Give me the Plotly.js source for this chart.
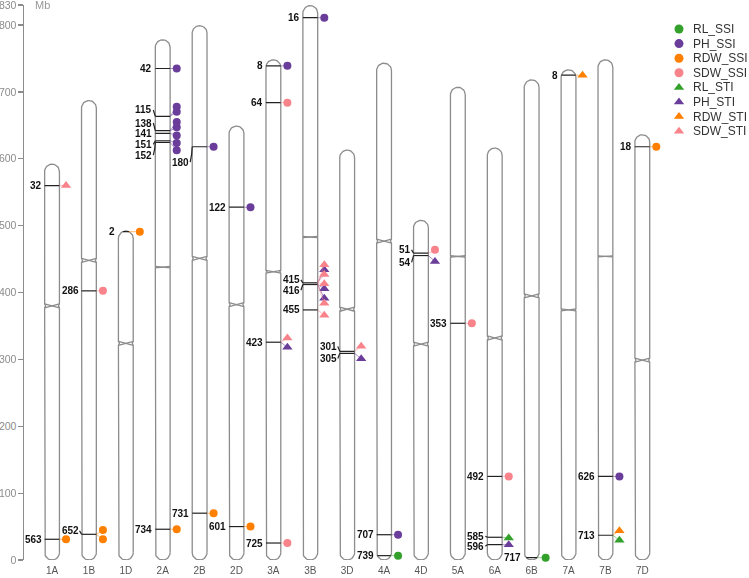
<!DOCTYPE html>
<html><head><meta charset="utf-8">
<script src="https://cdn.plot.ly/plotly-3.0.1.min.js"></script>
<style>html,body{margin:0;padding:0;background:#fff}#chart{width:749px;height:578px}</style>
</head><body><div id="chart"></div>
<script>
// ---------------- data ----------------
const chromosomes = ['1A','1B','1D','2A','2B','2D','3A','3B','3D','4A','4D','5A','6A','6B','7A','7B','7D'];
const chromLength = [592, 687, 492, 778, 799, 649, 748, 829, 613, 743, 508, 707, 616, 718, 733, 748, 636];
const centromere  = [380, 448, 324, 438, 451, 382, 431, 483, 375, 477, 323, 454, 332, 395, 374, 454, 299];

const traitNames = ['RL_SSI','PH_SSI','RDW_SSI','SDW_SSI','RL_STI','PH_STI','RDW_STI','SDW_STI'];

const markerChrom = ['1A','1A','1B','1B','1D','2A','2A','2A','2A','2A','2A','2A','2B','2B','2D','2D','3A','3A','3A','3A','3B','3B','3B','3B','3D','3D','4A','4A','4D','4D','5A','6A','6A','6A','6B','7A','7B','7B','7D'];
const markerId    = ['32','563','286','652','2','42','115','138','141','151','152','734','180','731','122','601','8','64','423','725','16','415','416','455','301','305','707','739','51','54','353','492','585','596','717','8','626','713','18'];
const markerPos   = [560,31,402.5,38.4,491,735,663.5,642,638,627,624.5,46,618,70,527.6,50,739,684,325.7,25.4,811,414.5,412,374,312,309,37.8,6.5,458.8,455.3,354,125,34,23,3.5,725,125,37,618];
const markerLabelPos = [560,31,402.5,43.8,491,735,673,653.5,637.5,621.6,605.6,46,595,70,527.6,50,739,684,325.7,25.4,811,419,403.5,374,319.5,301.3,37.8,6.5,463.8,445,354,125,35.5,20.5,3.5,725,125,37,618];

// associations: marker index, trait, drawn position of the symbol (Mb)
const hitMarker = [0,1,2,3,3,4,5,6,6,7,7,8,9,10,11,12,13,14,15,16,17,18,18,19,20,21,21,21,21,22,22,22,23,24,25,26,27,28,29,30,31,32,33,34,35,36,37,37,38];
const hitTrait  = ['SDW_STI','RDW_SSI','SDW_SSI','RDW_SSI','RDW_SSI','RDW_SSI','PH_SSI','PH_SSI','PH_SSI','PH_SSI','PH_SSI','PH_SSI','PH_SSI','PH_SSI','RDW_SSI','PH_SSI','RDW_SSI','PH_SSI','RDW_SSI','PH_SSI','SDW_SSI','SDW_STI','PH_STI','SDW_SSI','PH_SSI','SDW_STI','PH_STI','SDW_STI','SDW_STI','PH_STI','PH_STI','SDW_STI','SDW_STI','SDW_STI','PH_STI','PH_SSI','RL_SSI','SDW_SSI','PH_STI','SDW_SSI','SDW_SSI','RL_STI','PH_STI','RL_SSI','RDW_STI','PH_SSI','RDW_STI','RL_STI','RDW_SSI'];
const hitPos    = [560,31,402.5,44.8,31,491,735,678,670.5,655,647,634.7,623.5,612.6,46,618,70,527.6,50,739,684,332,318,25.4,811,441.4,434,427,413,405.6,391.5,384,366,319.7,301,37.8,6.5,463.8,446.4,354,125,33,22.8,3.5,725,125,43.8,29.4,618];

// ---------------- styles ----------------
const traitColor  = {RL_SSI:'#33a02c',PH_SSI:'#6a3d9a',RDW_SSI:'#ff7f00',SDW_SSI:'#f8838b',RL_STI:'#33a02c',PH_STI:'#6a3d9a',RDW_STI:'#ff7f00',SDW_STI:'#f8838b'};
const traitSymbol = {RL_SSI:'circle',PH_SSI:'circle',RDW_SSI:'circle',SDW_SSI:'circle',RL_STI:'triangle-up',PH_STI:'triangle-up',RDW_STI:'triangle-up',SDW_STI:'triangle-up'};
const pinchDepth = [3,3,3,1,3,3,2,0.8,3,3,3,1,3,3,1.5,0.8,3];

const ML=24, MR=0, MT=5, MB=18, WIDTH=749, HEIGHT=578;
const XDOM=[0,0.89], XR=[-0.76,16.73], YR=[0,830];
const pxPerUnit = (WIDTH-ML-MR)*(XDOM[1]-XDOM[0])/(XR[1]-XR[0]);
const pxPerMb = (HEIGHT-MT-MB)/(YR[1]-YR[0]);
const W = 7.4/pxPerUnit;      // half width of chromosome
const R = 7.4/pxPerMb;        // cap radius in Mb
const P = 1.0/pxPerUnit;      // pinch
const SYMX = 14/pxPerUnit;    // symbol offset
const LGAP = 2/pxPerUnit;

function halfWidthAt(i,y){
  const L=chromLength[i];
  let dy=0;
  if (y>L-R) dy=(y-(L-R))/R; else if (y<R) dy=(R-y)/R;
  return W*Math.sqrt(Math.max(0,1-dy*dy));
}

const traces=[];
// chromosome outlines
const ox=[], oy=[];
chromosomes.forEach((nm,i)=>{
  const L=chromLength[i], c=centromere[i], d=pinchDepth[i];
  const pts=[];
  pts.push([i+W,R],[i+W,c-d],[i+W-P,c],[i+W,c+d],[i+W,L-R]);
  for(let k=1;k<=24;k++){const t=Math.PI*k/24; pts.push([i+W*Math.cos(t), L-R+R*Math.sin(t)]);}
  pts.push([i-W,c+d],[i-W+P,c],[i-W,c-d],[i-W,R]);
  for(let k=1;k<=24;k++){const t=Math.PI+Math.PI*k/24; pts.push([i+W*Math.cos(t), R+R*Math.sin(t)]);}
  pts.forEach(p=>{ox.push(p[0]);oy.push(p[1]);});
  ox.push(null);oy.push(null);
  ox.push(i-W,i+W,null,i-W,i+W,null);
  oy.push(c-d,c+d,null,c+d,c-d,null);
});
traces.push({x:ox,y:oy,mode:'lines',line:{color:'#8c8c8c',width:1.3},hoverinfo:'skip',showlegend:false,cliponaxis:false});

// marker lines + label connectors
const mx=[], my=[];
markerChrom.forEach((ch,k)=>{
  const i=chromosomes.indexOf(ch), y=markerPos[k];
  const hw=halfWidthAt(i,y);
  mx.push(i-hw,i+hw,null); my.push(y,y,null);
  if (Math.abs(markerLabelPos[k]-y)>0.5){
    mx.push(i-W-LGAP,i-W-LGAP*0.3,i-hw,null); my.push(markerLabelPos[k],(markerLabelPos[k]+y)/2,y,null);
  }
});
traces.push({x:mx,y:my,mode:'lines',line:{color:'#222',width:1.2},hoverinfo:'skip',showlegend:false,cliponaxis:false});

// symbols per trait
traitNames.forEach(t=>{
  const cx=[],cy=[],sx=[],sy=[];
  hitTrait.forEach((tt,j)=>{
    if(tt!==t) return;
    const k=hitMarker[j], i=chromosomes.indexOf(markerChrom[k]);
    const hw=halfWidthAt(i,markerPos[k]);
    cx.push(i+hw,i+SYMX,null); cy.push(markerPos[k],hitPos[j],null);
    sx.push(i+SYMX); sy.push(hitPos[j]);
  });
  traces.push({x:cx,y:cy,mode:'lines',line:{color:traitColor[t],width:0.9},opacity:0.6,hoverinfo:'skip',showlegend:false,cliponaxis:false});
  traces.push({x:sx,y:sy,mode:'markers',name:t,marker:{color:traitColor[t],symbol:traitSymbol[t],size:traitSymbol[t]==='circle'?8:9,line:{width:0}},showlegend:false,cliponaxis:false});
});

// custom legend on a helper axis (pixel units)
const legX=[],legY=[],legC=[],legS=[];
traitNames.forEach((t,k)=>{legX.push(2.5);legY.push(24+k*14.6);legC.push(traitColor[t]);legS.push(traitSymbol[t]);});
traces.push({x:legX,y:legY,xaxis:'x2',yaxis:'y2',mode:'markers',marker:{color:legC,symbol:legS,size:9},hoverinfo:'skip',showlegend:false,cliponaxis:false});

const annotations=[];
markerId.forEach((id,k)=>{
  const i=chromosomes.indexOf(markerChrom[k]);
  annotations.push({x:i-W,y:markerLabelPos[k],xref:'x',yref:'y',text:'<b>'+id+'</b>',showarrow:false,xanchor:'right',yanchor:'middle',xshift:-1,
    font:{family:'Liberation Sans, Arial, sans-serif',size:10,color:'#111'}});
});
traitNames.forEach((t,k)=>{
  annotations.push({x:14,y:24+k*14.6,xref:'x2',yref:'y2',text:t,showarrow:false,xanchor:'left',yanchor:'middle',
    font:{family:'Liberation Sans, Arial, sans-serif',size:12,color:'#333'}});
});
annotations.push({x:XR[0]+9/pxPerUnit,y:830,xref:'x',yref:'y',text:'Mb',showarrow:false,xanchor:'left',yanchor:'middle',
  font:{family:'Liberation Sans, Arial, sans-serif',size:11,color:'#999'}});

const layout={
  width:WIDTH,height:HEIGHT,margin:{l:ML,r:MR,t:MT,b:MB,pad:0},
  paper_bgcolor:'#fff',plot_bgcolor:'#fff',showlegend:false,
  xaxis:{domain:XDOM,range:XR,tickmode:'array',tickvals:chromosomes.map((c,i)=>i),ticktext:chromosomes,
    showgrid:false,zeroline:false,showline:false,ticks:'',automargin:false,ticklabelstandoff:3,
    tickfont:{family:'Liberation Sans, Arial, sans-serif',size:10,color:'#555'}},
  yaxis:{range:YR,tickmode:'array',tickvals:[0,100,200,300,400,500,600,700,800,830],
    showgrid:false,zeroline:false,showline:true,linecolor:'#8c8c8c',linewidth:1.5,ticks:'outside',ticklen:5,tickcolor:'#8c8c8c',tickwidth:1.2,
    automargin:false,ticklabelstandoff:-1,ticklabeloverflow:'allow',tickfont:{family:'Liberation Sans, Arial, sans-serif',size:10.5,color:'#8c8c8c'}},
  xaxis2:{domain:[0.9,1],range:[0,72.5],visible:false,anchor:'y2',fixedrange:true},
  yaxis2:{domain:[0,1],range:[555,0],visible:false,anchor:'x2',fixedrange:true},
  annotations:annotations
};
Plotly.newPlot('chart',traces,layout,{displayModeBar:false,staticPlot:true});
</script></body></html>
